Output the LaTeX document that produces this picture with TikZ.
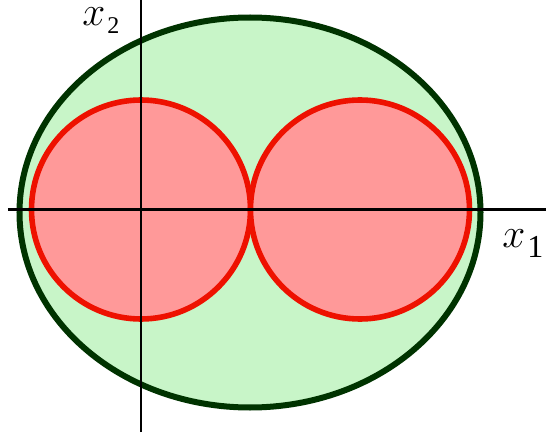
\documentclass[tikz,border=0pt]{standalone}
\usepackage{fix-cm}
\usepackage{fontspec}
\setmainfont{Liberation Serif}
\usepackage{tikz}
\usetikzlibrary{shapes.geometric}
\definecolor{regionfill}{HTML}{C8F5C8}
\definecolor{regionline}{HTML}{003300}
\definecolor{discfill}{HTML}{FF9999}
\definecolor{discline}{HTML}{EE1100}
% #1 index, #2 size of the index, #3 drop of the index
\newcommand{\axname}[3]{{\fontsize{31}{34}\selectfont$x$}\hspace{1.5pt}\raisebox{-#3}{\fontsize{#2}{#2}\selectfont #1}}
\tikzset{
  region/.style={draw=regionline, fill=regionfill, ellipse, line width=4.5pt, inner sep=0pt},
  disc/.style={draw=discline, fill=discfill, circle, line width=4.2pt, inner sep=0pt, minimum size=164.25pt},
  axis/.style={draw=black, line width=1.6pt},
  axislabel/.style={anchor=base west, inner sep=0pt}
}

\begin{document}
\begin{tikzpicture}[x=0.75pt, y=0.75pt]
  \useasboundingbox (-141,-229.5) rectangle (405,209.5);

  % outer region
  \node[region, minimum width=345.75pt, minimum height=292.5pt] (outer) at (109,-3) {};

  % the two discs
  \node[disc] (discL) at (0,0) {};
  \node[disc] (discR) at (219,0) {};

  % axes
  \coordinate (xmin) at (-133,0);
  \coordinate (xmax) at (405,0);
  \coordinate (ymin) at (0,-222.5);
  \coordinate (ymax) at (0,209.5);
  \draw[axis] (xmin) -- (xmax);
  \draw[axis] (ymin) -- (ymax);

  \node[axislabel] (lblx1) at (361,-37.5) {\axname{1}{24pt}{7.5pt}};
  \node[axislabel] (lblx2) at (-59,183.5) {\axname{2}{18pt}{6pt}};
\end{tikzpicture}
\end{document}
